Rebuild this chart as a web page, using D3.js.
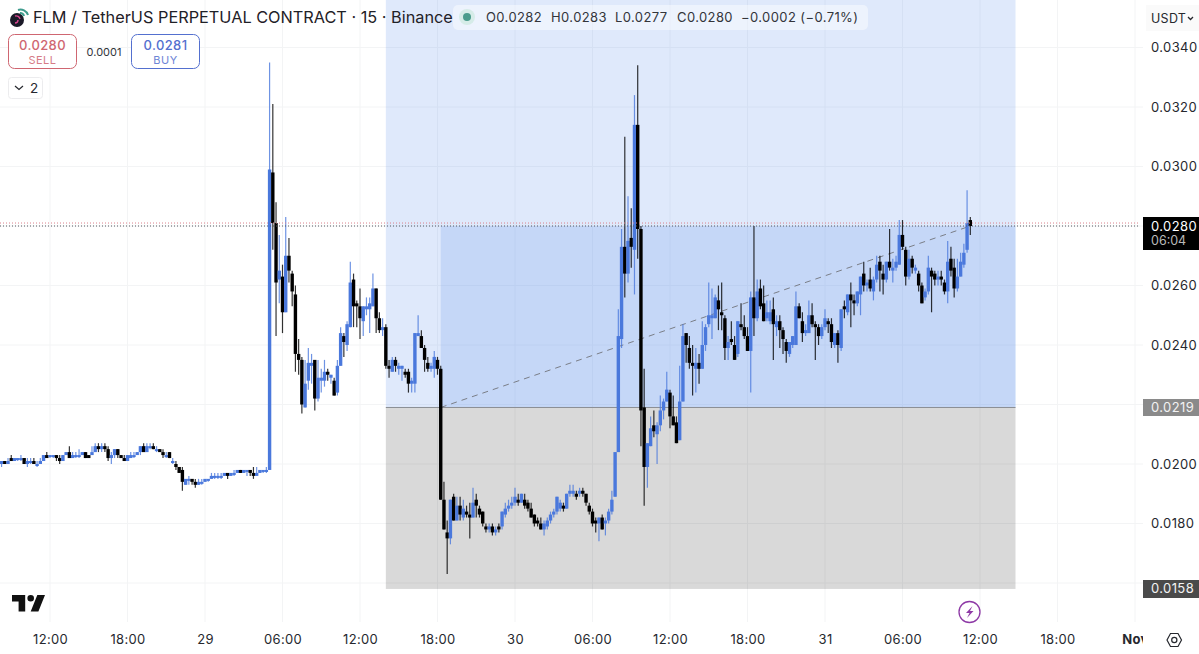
<!DOCTYPE html>
<html>
<head>
<meta charset="utf-8">
<title>FLM / TetherUS</title>
<script src="https://cdn.jsdelivr.net/npm/d3@7"></script>
<style>
  html, body { margin: 0; padding: 0; background: #fff; overflow: hidden; }
  svg { display: block; font-family: Inter, "Liberation Sans", sans-serif; }
</style>
</head>
<body>
<div id="chart"></div>
<script>
'use strict'

// 15 minute candles starting 28 Oct 08:15, prices in units of one tick
var priceUnit = 0.0001
var opens = [
  200, 201, 200, 202, 201, 202, 202, 202, 200, 201,
  201, 200, 200, 201, 203, 203, 203, 203, 202, 201,
  203, 204, 202, 203, 203, 203, 204, 203, 203, 204,
  206, 205, 206, 205, 202, 203, 205, 203, 202, 201,
  202, 203, 203, 204, 206, 204, 206, 206, 205, 205,
  204, 203, 204, 201, 200, 199, 198, 193, 195, 195,
  194, 193, 194, 194, 195, 195, 196, 196, 196, 196,
  197, 196, 197, 197, 198, 197, 198, 198, 197, 196,
  197, 198, 198, 198, 298, 281, 262, 263, 251, 270,
  264, 257, 237, 235, 219, 228, 233, 235, 222, 228,
  228, 231, 229, 228, 224, 233, 243, 240, 246, 262,
  254, 253, 248, 252, 252, 253, 259, 249, 245, 246,
  233, 231, 235, 232, 232, 231, 231, 227, 227, 243,
  243, 239, 234, 232, 232, 235, 232, 188, 177, 175,
  189, 181, 186, 182, 184, 183, 182, 188, 185, 184,
  179, 178, 179, 177, 179, 179, 183, 185, 186, 187,
  188, 187, 188, 187, 185, 183, 181, 180, 178, 179,
  181, 183, 184, 185, 186, 185, 190, 190, 190, 190,
  191, 190, 186, 184, 181, 180, 182, 180, 181, 184,
  189, 204, 242, 273, 264, 276, 272, 314, 279, 219,
  199, 206, 213, 210, 213, 218, 221, 224, 216, 214,
  208, 221, 244, 239, 234, 232, 234, 232, 240, 247,
  249, 249, 255, 251, 249, 239, 242, 240, 237, 247,
  246, 243, 238, 256, 249, 259, 254, 249, 248, 252,
  246, 248, 245, 241, 237, 240, 240, 253, 248, 244,
  244, 250, 247, 246, 243, 246, 248, 247, 240, 244,
  239, 253, 251, 257, 255, 254, 257, 264, 260, 262,
  258, 262, 268, 264, 262, 268, 265, 266, 267, 277,
  272, 263, 269, 265, 264, 260, 256, 258, 265, 264,
  262, 263, 261, 258, 269, 266, 259, 263, 267, 272,
  282
]
var highs = [
  201, 201, 202, 203, 202, 202, 203, 202, 202, 202,
  202, 201, 202, 203, 204, 203, 203, 203, 203, 203,
  204, 206, 204, 204, 205, 204, 204, 203, 206, 207,
  207, 207, 207, 206, 204, 205, 205, 203, 203, 203,
  204, 204, 204, 206, 207, 207, 207, 207, 206, 205,
  205, 204, 204, 202, 201, 199, 199, 195, 196, 195,
  195, 195, 195, 195, 195, 197, 197, 197, 197, 197,
  197, 197, 198, 198, 198, 198, 198, 198, 199, 199,
  198, 198, 199, 335, 321, 288, 277, 267, 283, 276,
  265, 260, 242, 236, 235, 239, 237, 235, 235, 232,
  235, 232, 230, 229, 235, 246, 244, 248, 268, 264,
  255, 259, 253, 256, 256, 264, 259, 251, 249, 247,
  235, 236, 236, 234, 233, 232, 232, 229, 244, 250,
  245, 240, 236, 234, 238, 236, 233, 194, 181, 188,
  190, 189, 189, 188, 186, 187, 192, 190, 186, 184,
  180, 180, 180, 179, 180, 184, 187, 188, 189, 192,
  190, 190, 190, 188, 187, 183, 182, 182, 181, 182,
  184, 185, 189, 188, 187, 190, 193, 193, 191, 192,
  192, 190, 187, 185, 182, 182, 183, 182, 185, 191,
  204, 252, 279, 310, 290, 286, 324, 334, 280, 232,
  207, 216, 218, 214, 223, 222, 231, 225, 223, 216,
  233, 247, 244, 243, 240, 239, 237, 248, 247, 261,
  259, 257, 260, 261, 250, 243, 248, 243, 248, 254,
  250, 246, 258, 280, 262, 262, 260, 255, 255, 256,
  250, 250, 246, 242, 241, 243, 258, 254, 251, 247,
  255, 254, 248, 247, 247, 252, 249, 249, 244, 245,
  252, 255, 257, 261, 257, 258, 263, 268, 262, 266,
  263, 270, 270, 267, 268, 279, 269, 270, 282, 282,
  273, 272, 270, 267, 265, 261, 259, 270, 266, 265,
  265, 265, 262, 275, 273, 269, 269, 271, 274, 292,
  283
]
var lows = [
  199, 200, 200, 201, 201, 201, 201, 200, 199, 200,
  200, 199, 200, 201, 202, 202, 202, 201, 200, 201,
  203, 202, 202, 202, 202, 203, 202, 202, 203, 204,
  204, 204, 204, 201, 200, 202, 202, 202, 201, 201,
  202, 202, 203, 203, 204, 204, 205, 205, 204, 204,
  202, 202, 202, 200, 198, 197, 191, 193, 193, 193,
  192, 193, 193, 194, 194, 195, 195, 195, 195, 196,
  195, 196, 196, 197, 197, 197, 196, 196, 195, 196,
  197, 197, 197, 198, 272, 243, 254, 244, 251, 261,
  253, 231, 230, 217, 219, 225, 227, 218, 221, 224,
  226, 228, 227, 223, 223, 233, 236, 238, 246, 246,
  246, 242, 243, 250, 244, 253, 244, 244, 243, 232,
  229, 231, 231, 230, 228, 229, 224, 224, 224, 243,
  239, 231, 231, 231, 229, 230, 188, 178, 163, 173,
  181, 181, 181, 181, 182, 175, 182, 182, 182, 179,
  177, 177, 176, 176, 177, 178, 182, 184, 185, 186,
  186, 187, 185, 184, 182, 179, 179, 178, 176, 178,
  180, 182, 183, 184, 184, 185, 189, 189, 188, 189,
  189, 186, 183, 179, 177, 174, 178, 176, 180, 183,
  189, 204, 239, 256, 261, 266, 257, 269, 206, 186,
  192, 206, 209, 200, 211, 215, 221, 212, 213, 207,
  208, 221, 234, 232, 223, 224, 227, 232, 238, 246,
  242, 249, 245, 245, 235, 235, 240, 235, 236, 245,
  242, 238, 224, 243, 248, 252, 248, 248, 247, 235,
  243, 239, 237, 234, 236, 239, 240, 249, 241, 243,
  244, 246, 235, 240, 242, 245, 244, 239, 239, 234,
  238, 249, 250, 246, 250, 253, 250, 258, 258, 258,
  255, 261, 258, 257, 261, 265, 261, 265, 267, 272,
  260, 262, 264, 264, 258, 254, 255, 257, 251, 260,
  260, 260, 257, 254, 263, 256, 258, 263, 266, 271,
  277
]
var closes = [
  201, 200, 201, 201, 202, 202, 202, 200, 201, 201,
  200, 200, 201, 203, 202, 203, 203, 202, 201, 203,
  204, 202, 203, 203, 203, 204, 202, 202, 204, 206,
  205, 206, 205, 202, 203, 205, 203, 202, 201, 203,
  203, 203, 204, 206, 204, 206, 206, 205, 205, 204,
  203, 203, 202, 201, 199, 197, 194, 195, 195, 194,
  193, 194, 194, 195, 195, 196, 196, 196, 196, 197,
  196, 197, 197, 198, 197, 198, 198, 197, 196, 197,
  198, 198, 198, 299, 281, 261, 265, 251, 270, 265,
  258, 237, 235, 220, 227, 234, 234, 222, 229, 229,
  231, 230, 230, 223, 233, 244, 241, 247, 261, 253,
  253, 249, 253, 253, 254, 259, 249, 245, 246, 233,
  232, 235, 233, 233, 233, 230, 227, 228, 244, 244,
  239, 235, 232, 233, 236, 232, 188, 178, 175, 188,
  181, 186, 183, 185, 183, 182, 187, 186, 183, 180,
  178, 179, 177, 178, 178, 184, 185, 186, 187, 189,
  187, 190, 186, 185, 182, 180, 180, 178, 180, 181,
  183, 184, 189, 187, 185, 190, 191, 191, 189, 191,
  190, 187, 184, 180, 180, 182, 178, 181, 184, 188,
  204, 243, 273, 264, 275, 273, 314, 279, 218, 199,
  207, 212, 211, 213, 218, 221, 225, 216, 213, 207,
  221, 243, 240, 234, 233, 234, 232, 240, 246, 250,
  250, 256, 252, 250, 239, 241, 241, 235, 248, 246,
  243, 238, 256, 249, 258, 253, 248, 251, 251, 247,
  248, 245, 242, 238, 241, 243, 253, 249, 244, 245,
  250, 247, 246, 243, 246, 249, 247, 241, 244, 240,
  252, 252, 257, 255, 254, 258, 263, 260, 261, 259,
  262, 267, 265, 262, 268, 266, 266, 268, 277, 273,
  263, 269, 266, 266, 260, 254, 258, 266, 263, 262,
  263, 262, 258, 268, 265, 259, 263, 268, 271, 281,
  280
]

var priceTicks = [0.034, 0.032, 0.03, 0.028, 0.026, 0.024, 0.022, 0.02, 0.018, 0.016]
// these labels sit under a price tag, only their grid line shows
var coveredTicks = [0.028, 0.022, 0.016]
var timeTicks = [
  new Date(Date.UTC(2024, 9, 28, 12)), new Date(Date.UTC(2024, 9, 28, 18)), new Date(Date.UTC(2024, 9, 29, 0)),
  new Date(Date.UTC(2024, 9, 29, 6)), new Date(Date.UTC(2024, 9, 29, 12)), new Date(Date.UTC(2024, 9, 29, 18)),
  new Date(Date.UTC(2024, 9, 30, 0)), new Date(Date.UTC(2024, 9, 30, 6)), new Date(Date.UTC(2024, 9, 30, 12)),
  new Date(Date.UTC(2024, 9, 30, 18)), new Date(Date.UTC(2024, 9, 31, 0)), new Date(Date.UTC(2024, 9, 31, 6)),
  new Date(Date.UTC(2024, 9, 31, 12)), new Date(Date.UTC(2024, 9, 31, 18)), new Date(Date.UTC(2024, 10, 1, 0))
]
var firstCandle = Date.UTC(2024, 9, 28, 8, 15)
var candleStep = 15 * 60 * 1000

var positionStart = Date.UTC(2024, 9, 29, 14)
var positionEntry = Date.UTC(2024, 9, 29, 18, 15)
var positionEnd = Date.UTC(2024, 9, 31, 14, 45)
var entryPrice = 0.0219
var stopPrice = 0.0158
var targetPrice = 0.0357
var lastPrice = 0.0280
var askPrice = 0.0281

var width = 1199
var height = 654
var plotRight = 1143
var plotBottom = 622
var blue = '#4a78dc'

var candles = opens.map(function (o, i) {
  return {
    t: firstCandle + i * candleStep,
    o: o * priceUnit,
    h: highs[i] * priceUnit,
    l: lows[i] * priceUnit,
    c: closes[i] * priceUnit
  }
})

var x = d3.scaleUtc()
  .domain([timeTicks[0], timeTicks[timeTicks.length - 1]])
  .range([50, 1135])
var y = d3.scaleLinear()
  .domain([0.02, 0.028])
  .range([464, 226])

var svg = d3.select('#chart').append('svg')
  .attr('width', width)
  .attr('height', height)

svg.append('defs').append('clipPath')
  .attr('id', 'time-clip')
  .append('rect')
  .attr('x', 0)
  .attr('y', 0)
  .attr('width', plotRight)
  .attr('height', height - plotBottom)

// grid
svg.append('g').selectAll('line')
  .data(priceTicks)
  .enter().append('line')
  .attr('x1', 0)
  .attr('x2', plotRight)
  .attr('y1', function (d) { return y(d) })
  .attr('y2', function (d) { return y(d) })
  .style('stroke', '#f3f4f5')
svg.append('g').selectAll('line')
  .data(timeTicks)
  .enter().append('line')
  .attr('x1', function (d) { return x(d) })
  .attr('x2', function (d) { return x(d) })
  .attr('y1', 0)
  .attr('y2', plotBottom)
  .style('stroke', '#f3f4f5')

// long position tool
var position = svg.append('g')
position.append('rect')
  .attr('x', x(positionStart))
  .attr('y', y(targetPrice))
  .attr('width', x(positionEnd) - x(positionStart))
  .attr('height', y(entryPrice) - y(targetPrice))
  .style('fill', '#5f91eb')
  .style('opacity', 0.2)
position.append('rect')
  .attr('x', x(positionEntry))
  .attr('y', y(lastPrice))
  .attr('width', x(positionEnd) - x(positionEntry))
  .attr('height', y(entryPrice) - y(lastPrice))
  .style('fill', '#5f91eb')
  .style('opacity', 0.2)
position.append('rect')
  .attr('x', x(positionStart))
  .attr('y', y(entryPrice))
  .attr('width', x(positionEnd) - x(positionStart))
  .attr('height', y(stopPrice) - y(entryPrice))
  .style('fill', '#000')
  .style('opacity', 0.15)
position.append('line')
  .attr('x1', x(positionStart))
  .attr('x2', x(positionEnd))
  .attr('y1', y(entryPrice))
  .attr('y2', y(entryPrice))
  .style('stroke', '#8a8d93')
position.append('line')
  .attr('x1', x(positionEntry))
  .attr('x2', x(candles[candles.length - 1].t))
  .attr('y1', y(entryPrice))
  .attr('y2', y(lastPrice))
  .style('stroke', '#7a7e87')
  .style('stroke-dasharray', '6,5')

// candles
var candle = svg.append('g').selectAll('g')
  .data(candles)
  .enter().append('g')
  .attr('transform', function (d) { return 'translate(' + x(d.t) + ',0)' })
candle.append('line')
  .attr('y1', function (d) { return y(d.h) })
  .attr('y2', function (d) { return y(d.l) })
  .style('stroke', candleColor)
  .style('stroke-width', 1.2)
  .style('stroke-opacity', 0.8)
candle.append('rect')
  .attr('x', -1.7)
  .attr('width', 3.4)
  .attr('y', function (d) { return y(Math.max(d.o, d.c)) })
  .attr('height', function (d) { return Math.max(Math.abs(y(d.o) - y(d.c)), 2) })
  .style('fill', candleColor)

function candleColor (d) {
  return d.c >= d.o ? blue : '#000'
}

// bid and ask lines
svg.append('g').selectAll('line')
  .data([askPrice, lastPrice])
  .enter().append('line')
  .attr('x1', 0)
  .attr('x2', plotRight - 3)
  .attr('y1', function (d) { return y(d) })
  .attr('y2', function (d) { return y(d) })
  .style('stroke', function (d, i) { return i ? '#55585f' : '#d9808c' })
  .style('stroke-dasharray', '1,2')

// axes
var yAxis = svg.append('g')
  .attr('transform', 'translate(' + plotRight + ',0)')
  .call(d3.axisRight(y)
    .tickValues(priceTicks.filter(function (d) { return coveredTicks.indexOf(d) < 0 }))
    .tickFormat(d3.format('.4f'))
    .tickSize(0)
    .tickPadding(8))
yAxis.select('.domain').remove()
yAxis.selectAll('text')
  .style('font-family', 'Inter, sans-serif')
  .style('font-size', '13px')
  .style('letter-spacing', '0.4px')
  .style('fill', '#26282e')

var timeLabel = d3.utcFormat('%H:%M')
var xAxis = svg.append('g')
  .attr('transform', 'translate(0,' + plotBottom + ')')
  .attr('clip-path', 'url(#time-clip)')
  .call(d3.axisBottom(x)
    .tickValues(timeTicks)
    .tickFormat(function (d) {
      if (d.getUTCHours() !== 0) return timeLabel(d)
      return d.getUTCDate() === 1 ? 'Nov' : d.getUTCDate()
    })
    .tickSize(0)
    .tickPadding(13))
xAxis.select('.domain').remove()
xAxis.selectAll('text')
  .style('font-family', 'Inter, sans-serif')
  .style('font-size', '13px')
  .style('letter-spacing', '0.3px')
  .style('fill', '#26282e')
  .style('font-weight', function (d) { return d.getUTCDate() === 1 ? 700 : 400 })

// price tags on the axis
function priceTag (price, top, h, fill, color) {
  svg.append('rect')
    .attr('x', plotRight)
    .attr('y', top)
    .attr('width', width - plotRight)
    .attr('height', h)
    .style('fill', fill)
  svg.append('text')
    .attr('x', plotRight + 8)
    .attr('y', y(price) + 4.5)
    .style('font-size', '13px')
    .style('letter-spacing', '0.4px')
    .style('fill', color)
    .text(d3.format('.4f')(price))
}
priceTag(lastPrice, 217, 33, '#000', '#fff')
svg.append('text')
  .attr('x', plotRight + 8)
  .attr('y', 245)
  .style('font-size', '12.5px')
  .style('fill', '#b8b8b8')
  .text('06:04')
priceTag(entryPrice, 399, 17, '#8a8a8a', '#f2f2f2')
priceTag(stopPrice, 580, 18, '#4a4a4a', '#f2f2f2')

// legend on top
svg.append('rect')
  .attr('x', 453)
  .attr('y', 5)
  .attr('width', 415)
  .attr('height', 25)
  .attr('rx', 5)
  .style('fill', '#fff')
  .style('opacity', 0.45)

svg.append('circle').attr('cx', 17).attr('cy', 20).attr('r', 7).style('fill', '#1b1a28')
svg.append('path')
  .attr('d', 'M15 16a4 4 0 0 1 5 3M15 23a3 3 0 0 0 3-3')
  .style('fill', 'none')
  .style('stroke', '#d8458f')
  .style('stroke-width', 1.4)
svg.append('path')
  .attr('d', 'M18 10a8 8 0 0 1 10 5M20 13a4 4 0 0 1 4 3')
  .style('fill', 'none')
  .style('stroke', '#3f9c8e')
  .style('stroke-width', 2)

svg.append('text')
  .attr('x', 33)
  .attr('y', 23)
  .style('font-size', '16.3px')
  .style('fill', '#1f2127')
  .text('FLM / TetherUS PERPETUAL CONTRACT · 15 · Binance')

svg.append('circle').attr('cx', 467).attr('cy', 17).attr('r', 8).style('fill', '#d6ece8')
svg.append('circle').attr('cx', 467).attr('cy', 17).attr('r', 4).style('fill', '#4a9c8c')

var legendParts = ['O0.0282', 'H0.0283', 'L0.0277', 'C0.0280', '−0.0002 (−0.71%)']
var legendLeft = [486, 551, 615, 677, 741]
svg.append('g').selectAll('text')
  .data(legendParts)
  .enter().append('text')
  .attr('x', function (d, i) { return legendLeft[i] })
  .attr('y', 22)
  .style('font-size', '13px')
  .style('letter-spacing', '0.4px')
  .style('fill', '#33353b')
  .text(function (d) { return d })

// sell and buy buttons
function tradeButton (left, color, price, label) {
  svg.append('rect')
    .attr('x', left + 0.5)
    .attr('y', 34.5)
    .attr('width', 68)
    .attr('height', 34)
    .attr('rx', 6)
    .style('fill', '#fff')
    .style('stroke', color)
  svg.append('text')
    .attr('x', left + 34.5)
    .attr('y', 50)
    .attr('text-anchor', 'middle')
    .style('font-size', '13px')
    .style('font-weight', 500)
    .style('letter-spacing', '0.4px')
    .style('fill', color)
    .text(price)
  svg.append('text')
    .attr('x', left + 34.5)
    .attr('y', 64)
    .attr('text-anchor', 'middle')
    .style('font-size', '11px')
    .style('letter-spacing', '0.5px')
    .style('fill', color)
    .style('opacity', 0.85)
    .text(label)
}
tradeButton(8, '#cf6671', '0.0280', 'SELL')
tradeButton(131, '#5470cf', '0.0281', 'BUY')
svg.append('text')
  .attr('x', 104)
  .attr('y', 56)
  .attr('text-anchor', 'middle')
  .style('font-size', '11px')
  .style('fill', '#33353b')
  .text('0.0001')

// collapsed indicators
svg.append('rect')
  .attr('x', 8.5)
  .attr('y', 77.5)
  .attr('width', 34)
  .attr('height', 21)
  .attr('rx', 3)
  .style('fill', '#fff')
  .style('stroke', '#ececee')
svg.append('path')
  .attr('d', 'M15 86l4 3.5 4-3.5')
  .style('fill', 'none')
  .style('stroke', '#26282e')
  .style('stroke-width', 1.2)
svg.append('text')
  .attr('x', 30)
  .attr('y', 93)
  .style('font-size', '13.5px')
  .style('fill', '#26282e')
  .text('2')

// currency button
svg.append('rect')
  .attr('x', 1146)
  .attr('y', 5)
  .attr('width', 53)
  .attr('height', 26)
  .style('fill', '#fafafa')
svg.append('text')
  .attr('x', 1151)
  .attr('y', 23)
  .style('font-size', '12.5px')
  .style('letter-spacing', '0.3px')
  .style('fill', '#26282e')
  .text('USDT')
svg.append('path')
  .attr('d', 'M1188 17l2.5 2.5 2.5-2.5')
  .style('fill', 'none')
  .style('stroke', '#26282e')
  .style('stroke-width', 1.3)

// watermark, flash and settings icons
svg.append('path')
  .attr('transform', 'translate(9.8,588.4) scale(1.1)')
  .attr('d', 'M14 6H2v6h6v9h6V6Zm12 15h-7l6-15h7l-6 15Zm-7-9a3 3 0 1 0 0-6 3 3 0 0 0 0 6Z')
  .style('fill', '#111')
svg.append('circle')
  .attr('cx', 969.5)
  .attr('cy', 612)
  .attr('r', 10.5)
  .style('fill', '#fff')
  .style('stroke', '#8e3aa6')
  .style('stroke-width', 1.3)
svg.append('path')
  .attr('d', 'M972.5 606l-6.5 7h3.5l-2.5 5 6.5-7h-3.5Z')
  .style('fill', '#8e3aa6')
svg.append('path')
  .attr('d', 'M1167 640l3.5-6.5h7.5l3.5 6.5-3.5 6.5h-7.5Z')
  .style('fill', 'none')
  .style('stroke', '#26282e')
  .style('stroke-width', 1.2)
svg.append('circle')
  .attr('cx', 1174.3)
  .attr('cy', 640)
  .attr('r', 2.6)
  .style('fill', 'none')
  .style('stroke', '#26282e')
  .style('stroke-width', 1.2)
</script>
</body>
</html>
